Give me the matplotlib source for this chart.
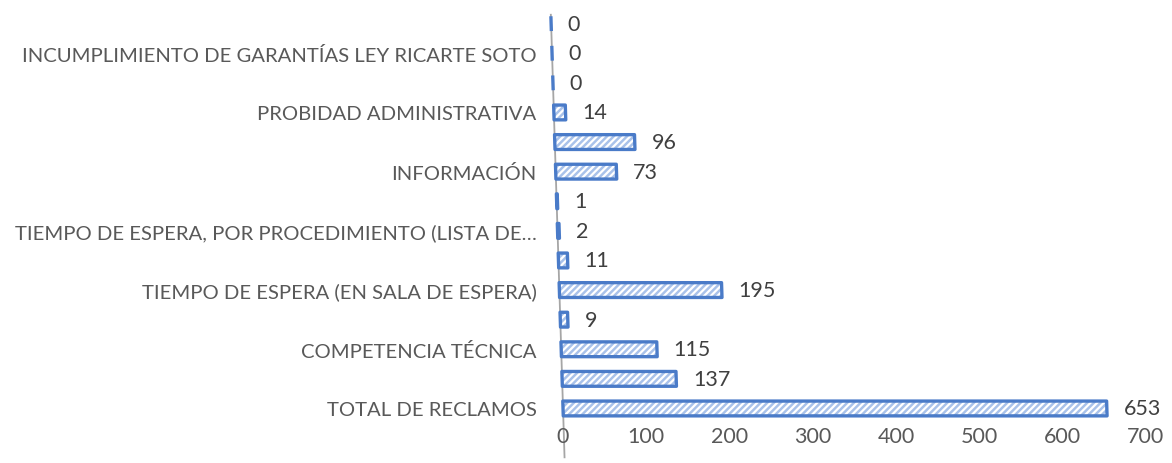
import matplotlib
matplotlib.use("Agg")
import matplotlib.pyplot as plt
import matplotlib.transforms as mtransforms

# Reclamos por categoría (de abajo hacia arriba)
categories = [
    "TOTAL DE RECLAMOS",
    "",
    "COMPETENCIA TÉCNICA",
    "",
    "TIEMPO DE ESPERA (EN SALA DE ESPERA)",
    "",
    "TIEMPO DE ESPERA, POR PROCEDIMIENTO (LISTA DE…",
    "",
    "INFORMACIÓN",
    "",
    "PROBIDAD ADMINISTRATIVA",
    "",
    "INCUMPLIMIENTO DE GARANTÍAS LEY RICARTE SOTO",
    "",
]
values = [653, 137, 115, 9, 195, 11, 2, 1, 73, 96, 14, 0, 0, 0]
x_ticks = [0, 100, 200, 300, 400, 500, 600, 700]

plt.rcParams["font.family"] = ["Lato", "DejaVu Sans"]
TEXT = "#595959"
LABEL = "#404040"
EDGE = "#4a7bc8"
FILL = "#a9c2ea"
plt.rcParams["hatch.linewidth"] = 1.6

fig = plt.figure(figsize=(11.72, 4.64), dpi=100)
ax = fig.add_axes([0.4804, 0.092, 0.4974, 0.8804])

# slight perspective lean of the category axis
lean = mtransforms.Affine2D([[1, -1.1, 0], [0, 1, 0], [0, 0, 1]]) + ax.transData

ypos = list(range(len(values)))
# striped body
body = ax.barh(ypos, values, height=0.5, color=FILL, edgecolor="white",
               linewidth=0, hatch="/////")
# blue outline
outline = ax.barh(ypos, values, height=0.5, fill=False, edgecolor=EDGE,
                  linewidth=2.4)
for b in list(body) + list(outline):
    b.set_transform(lean)
    b.set_clip_on(False)
    b.set_joinstyle("round")

ax.set_xlim(0, 700)
ax.set_ylim(-0.4, 13.4)

ax.plot([0, 0], [-1.65, 13.3], color="#a6a6a6", lw=1.3, transform=lean,
        zorder=0, clip_on=False)

for y, v in zip(ypos, values):
    ax.annotate(str(v), xy=(v, y), xycoords=lean, xytext=(12, 0),
                textcoords="offset points", va="center", ha="left",
                fontsize=15.5, color=LABEL)

shown = [i for i, c in enumerate(categories) if c]
ax.set_yticks(shown)
ax.set_yticklabels([categories[i] for i in shown], fontsize=14.6, color=TEXT)
ax.tick_params(axis="y", length=0, pad=19)
ax.set_xticks(x_ticks)
ax.set_xticklabels([str(t) for t in x_ticks], fontsize=15.5, color=TEXT)
ax.tick_params(axis="x", length=0, pad=4)
for s in ax.spines.values():
    s.set_visible(False)

fig.savefig("out.png", dpi=100)
